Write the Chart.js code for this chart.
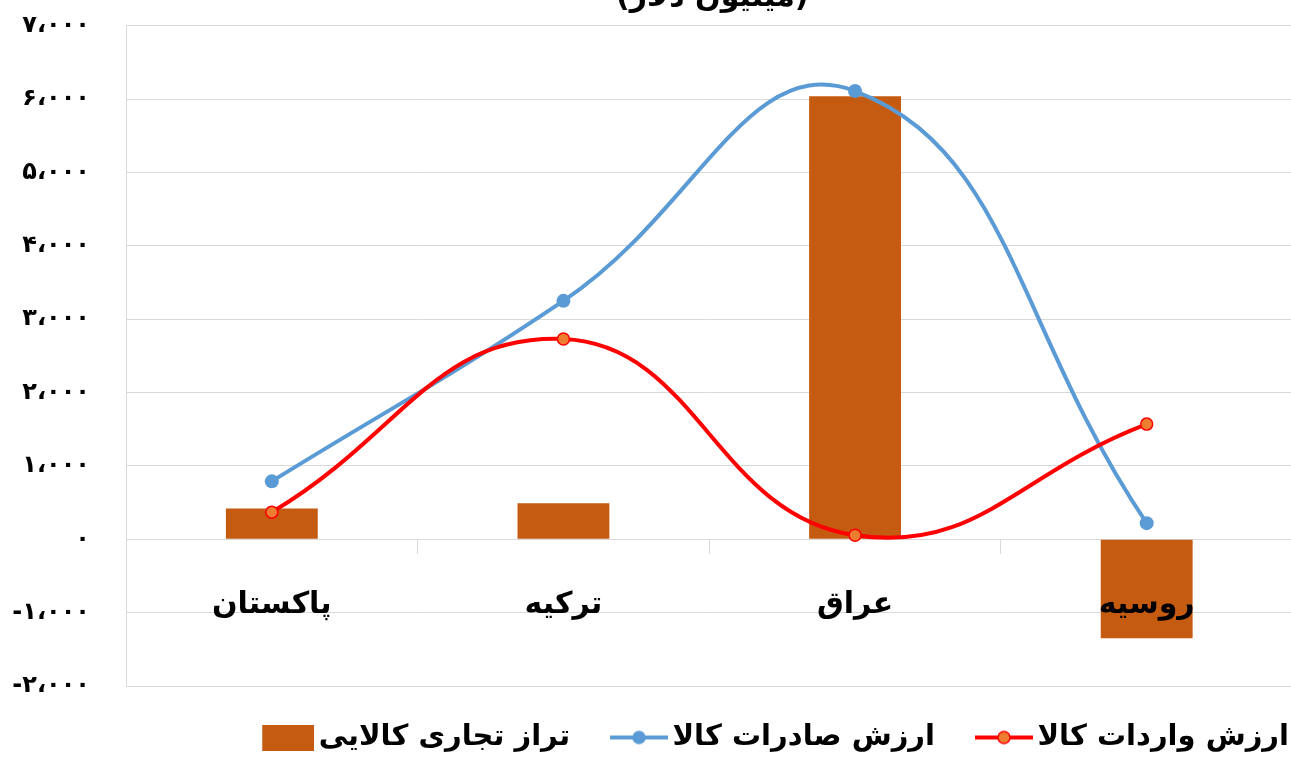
<!DOCTYPE html>
<html>
<head>
<meta charset="utf-8">
<script src="https://cdn.jsdelivr.net/npm/chart.js@4.4.1/dist/chart.umd.min.js"></script>
<style>
  html, body { margin: 0; padding: 0; background: #ffffff; }
  #wrap { position: relative; width: 1291px; height: 762px; overflow: hidden; }
  canvas { display: block; position: absolute; left: 0; top: -22px; }
</style>
</head>
<body>
<div id="wrap"><canvas id="c" width="1300" height="784"></canvas></div>
<script>
// ---- data ----
const categories = ['پاکستان', 'ترکیه', 'عراق', 'روسیه'];
const tradeBalance = [420, 490, 6040, -1350];
const exportsValue = [790, 3250, 6110, 220];
const importsValue = [370, 2730, 55, 1570];
const seriesNames = ['تراز تجاری کالایی', 'ارزش صادرات کالا', 'ارزش واردات کالا'];
const titleText = '(میلیون دلار)';
const yMin = -2000, yMax = 7000, yStep = 1000;

const BAR = '#C55A11', BLUE = '#5B9BD5', RED = '#FF0000', ORANGE = '#ED7D31';
const FONT = 'DejaVu Sans';

function faNum(v) {
  const s = Math.abs(v).toLocaleString('en-US');
  const digits = '۰۱۲۳۴۵۶۷۸۹';
  let out = s.replace(/[0-9]/g, d => digits[+d]).replace(/,/g, '،');
  return (v < 0 ? '-' : '') + out;
}

const SLOT = 78, EXT = 10, IMGW = SLOT + 2 * EXT;
function lineMarker(color, fill, mw) {
  const c = document.createElement('canvas');
  c.width = IMGW; c.height = 16;
  const x = c.getContext('2d');
  const x0 = IMGW - mw;
  x.strokeStyle = color; x.lineWidth = 4; x.lineCap = 'butt';
  x.beginPath(); x.moveTo(x0, 8); x.lineTo(IMGW, 8); x.stroke();
  x.beginPath(); x.arc(x0 + mw / 2, 8, 6, 0, Math.PI * 2);
  x.fillStyle = fill; x.fill();
  x.lineWidth = 1.5; x.strokeStyle = color; x.stroke();
  return c;
}
function boxMarker(color) {
  const c = document.createElement('canvas');
  c.width = IMGW; c.height = 26;
  const x = c.getContext('2d');
  x.fillStyle = color; x.fillRect(IMGW - 52, 0, 52, 26);
  return c;
}
const markers = [boxMarker(BAR), lineMarker(BLUE, BLUE, 58), lineMarker(RED, ORANGE, 58)];

const titlePlugin = {
  id: 'topTitle',
  afterDraw(chart) {
    const ctx = chart.ctx, a = chart.chartArea;
    ctx.save();
    ctx.font = 'bold 30px "' + FONT + '"';
    ctx.fillStyle = '#000';
    ctx.textAlign = 'center';
    ctx.textBaseline = 'alphabetic';
    ctx.fillText(titleText, (a.left + a.right) / 2 + 3, 28);
    ctx.restore();
  }
};

new Chart(document.getElementById('c'), {
  type: 'bar',
  data: {
    labels: categories,
    datasets: [
      {
        type: 'bar', label: seriesNames[0], data: tradeBalance,
        backgroundColor: BAR, borderWidth: 0,
        categoryPercentage: 1.0, barPercentage: 0.315, order: 3
      },
      {
        type: 'line', label: seriesNames[1], data: exportsValue,
        borderColor: BLUE, backgroundColor: BLUE, borderWidth: 4,
        pointRadius: 7, pointBackgroundColor: BLUE, pointBorderColor: BLUE, pointBorderWidth: 0,
        tension: 0.45, fill: false, order: 2
      },
      {
        type: 'line', label: seriesNames[2], data: importsValue,
        borderColor: RED, backgroundColor: ORANGE, borderWidth: 4,
        pointRadius: 6, pointBackgroundColor: ORANGE, pointBorderColor: RED, pointBorderWidth: 1.5,
        tension: 0.45, fill: false, order: 1
      }
    ]
  },
  options: {
    responsive: false,
    animation: false,
    devicePixelRatio: 1,
    layout: { padding: { top: 10, right: 1, left: 0, bottom: 0 } },
    plugins: {
      title: { display: false },
      tooltip: { enabled: false },
      legend: {
        position: 'bottom',
        align: 'end',
        title: { display: true, text: '', font: { size: 10, lineHeight: 1.2 }, padding: { top: 7.5, bottom: 7.5 } },
        labels: {
          usePointStyle: true,
          pointStyleWidth: SLOT,
          padding: 10,
          color: '#000',
          font: { family: FONT, size: 29, weight: 'bold' },
          sort: (a, b) => a.datasetIndex - b.datasetIndex,
          generateLabels(chart) {
            return chart.data.datasets.map((ds, i) => ({
              text: ds.label, datasetIndex: i, pointStyle: markers[i],
              fillStyle: 'transparent', strokeStyle: 'transparent', lineWidth: 0, hidden: false, fontColor: '#000'
            }));
          }
        }
      }
    },
    scales: {
      x: {
        position: { y: 0 },
        offset: true,
        grid: { offset: true, drawOnChartArea: false, drawTicks: true, tickLength: 14, color: '#d9d9d9', lineWidth: 1 },
        border: { display: true, color: '#d9d9d9', width: 1 },
        ticks: { z: 1, color: '#000', padding: 34, font: { family: FONT, size: 30, weight: 'bold' }, maxRotation: 0, autoSkip: false }
      },
      y: {
        min: yMin, max: yMax,
        grid: { color: '#d9d9d9', lineWidth: 1, drawTicks: false },
        border: { display: true, color: '#d9d9d9', width: 1 },
        ticks: { stepSize: yStep, padding: 36, color: '#000', font: { family: FONT, size: 24, weight: 'bold', lineHeight: 0.98 }, callback: v => faNum(v) },
        afterFit(scale) { scale.width = 126; }
      }
    }
  },
  plugins: [titlePlugin]
});
</script>
</body>
</html>
